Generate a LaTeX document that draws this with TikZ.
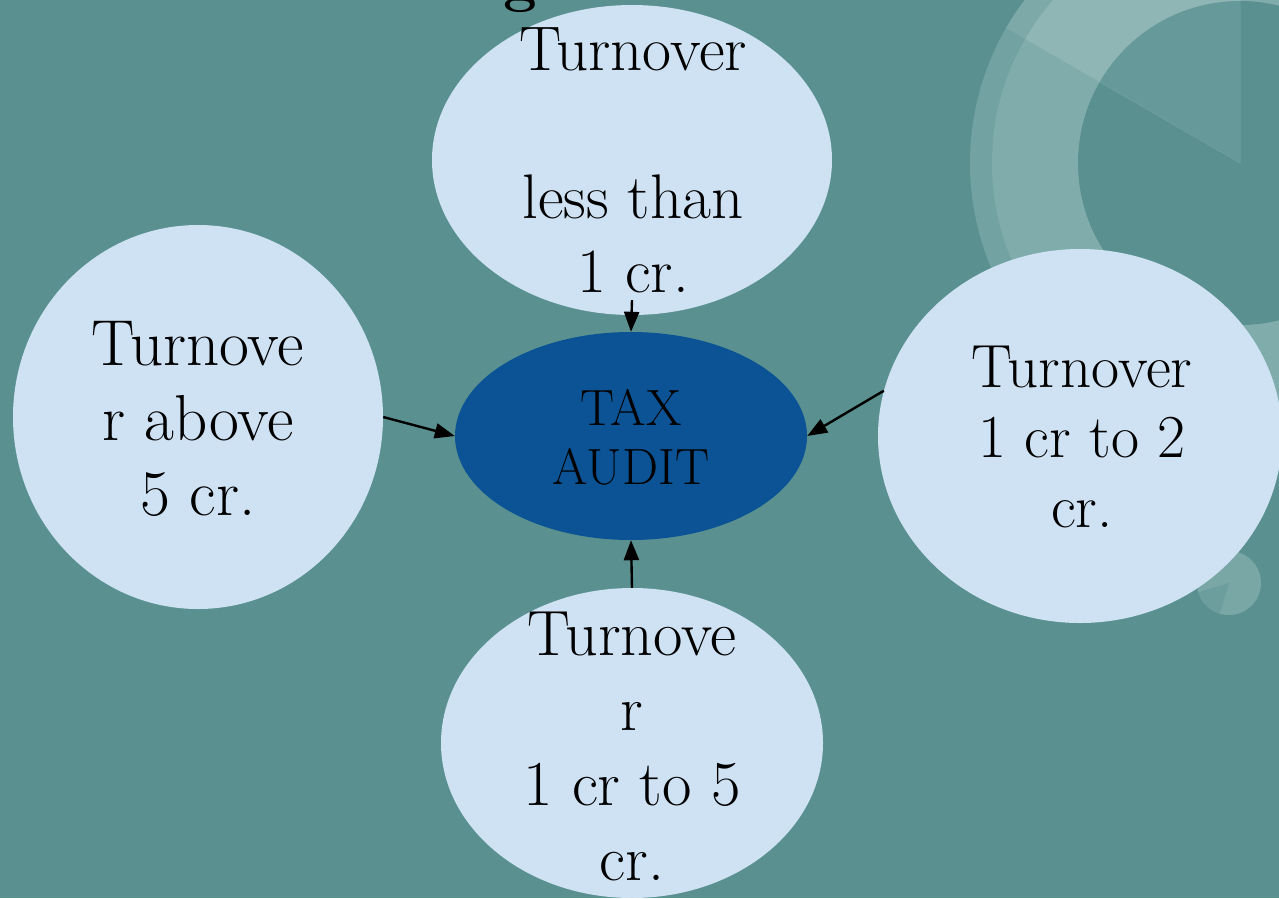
\documentclass[tikz,border=0pt]{standalone}
\usetikzlibrary{shapes.geometric,arrows.meta}
\definecolor{bg}{HTML}{5A9190}
\definecolor{lightb}{HTML}{CFE2F3}
\definecolor{darkb}{HTML}{0B5394}
\definecolor{ringfaint}{HTML}{72A3A2}
\definecolor{ringmain}{HTML}{80ADAC}
\definecolor{wedgefaint}{HTML}{7DAAA9}
\definecolor{wedgering}{HTML}{8FB5B5}
\definecolor{wedgeinner}{HTML}{669A9A}
\definecolor{dotlight}{HTML}{78A7A6}
\definecolor{dotdark}{HTML}{6B9E9D}
\newcommand\myfs[2]{\fontsize{#1}{#2}\selectfont}
\begin{document}
\begin{tikzpicture}[x=1pt,y=-1pt,
  bub/.style={ellipse,fill=lightb,inner sep=0pt,draw=none},
  lbl/.style={align=center,anchor=base,inner sep=0pt,text=black},
  conn/.style={line width=2.4pt,-{Triangle[length=20pt,width=15pt]}}]
\useasboundingbox (0,0) rectangle (1279,898);
\clip (0,0) rectangle (1279,898);
\fill[bg] (0,0) rectangle (1279,898);
% background decoration: ring
\fill[ringfaint] (1240,163) circle[radius=270];
\fill[ringmain] (1240,163) circle[radius=248];
\fill[bg] (1240,163) circle[radius=162];
\begin{scope}
  \clip (1240,163) -- (720,-137) -- (720,-300) -- (1240,-300) -- cycle;
  \fill[wedgefaint] (1240,163) circle[radius=270];
  \fill[wedgering] (1240,163) circle[radius=248];
  \fill[wedgeinner] (1240,163) circle[radius=162];
\end{scope}
% small dot
\fill[dotlight] (1229,583) circle[radius=32];
\begin{scope}
  \clip (1229,583) circle[radius=32];
  \fill[dotdark] (1229,583) -- (1211.5,640.4) -- (1171.6,600.5) -- cycle;
\end{scope}
% partial title glyph
\node[anchor=base,inner sep=0pt,font=\myfs{60}{60}\bfseries] (titleg) at (520,0) {g};
% bubbles
\node[bub,minimum width=400pt,minimum height=310pt] (top) at (632,160) {};
\node[bub,minimum width=370pt,minimum height=384pt] (left) at (198,417) {};
\node[bub,minimum width=404pt,minimum height=374pt] (right) at (1080,436) {};
\node[bub,minimum width=382pt,minimum height=310pt] (bottom) at (632,743) {};
\node[bub,fill=darkb,minimum width=352pt,minimum height=208pt] (audit) at (631,436) {};
% connectors
\draw[conn] ([yshift=15pt]top.south) -- (audit.north);
\draw[conn] (left.east) -- (audit.west);
\draw[conn] (right.167) -- (audit.east);
\draw[conn] (bottom.north) -- (audit.south);
% labels (anchor base = baseline of last line)
\node[lbl,font=\myfs{63}{74}] (ttop) at (633,292) {Turnover\\[74pt]less than\\1 cr.};
\node[lbl,font=\myfs{65}{75}] (tleft) at (198,515) {Turnove\\r above\\5 cr.};
\node[lbl,font=\myfs{61}{70}] (tright) at (1082,527) {Turnover\\1 cr to 2\\cr.};
\node[lbl,font=\myfs{64}{75}] (tbottom) at (632,880) {Turnove\\r\\1 cr to 5\\cr.};
\node[lbl,font=\myfs{51}{59}] (taudit) at (631,484) {TAX\\AUDIT};
\end{tikzpicture}
\end{document}
